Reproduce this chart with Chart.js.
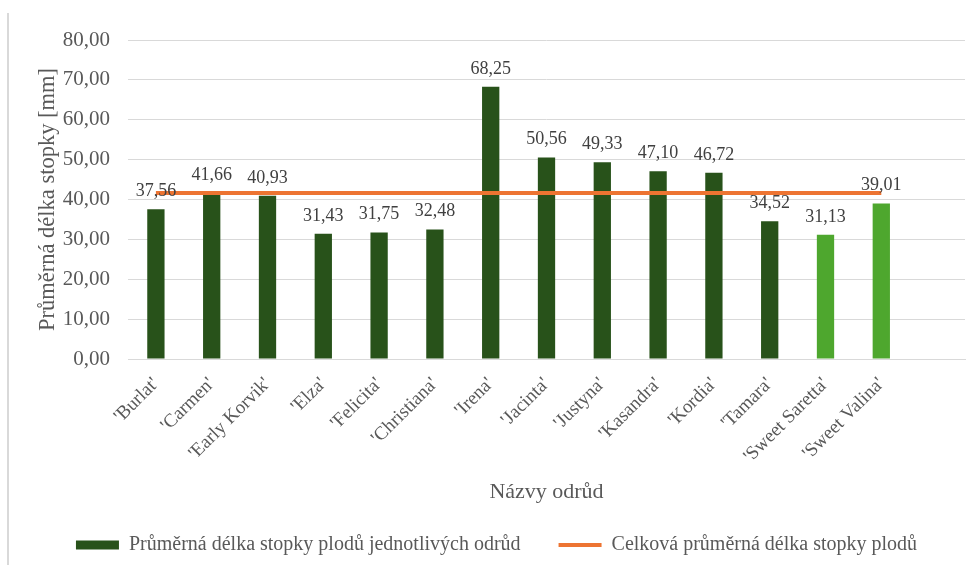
<!DOCTYPE html>
<html lang="cs">
<head>
<meta charset="utf-8">
<title>Průměrná délka stopky</title>
<script src="https://cdn.jsdelivr.net/npm/chart.js@4"></script>
<style>
  html, body { margin: 0; padding: 0; background: #fff; }
  #wrap { position: relative; width: 975px; height: 565px; }
  #frame { position: absolute; left: 7px; top: 13px; width: 2px; height: 552px; background: #d9d9d9; }
</style>
</head>
<body>
<div id="wrap">
  <div id="frame"></div>
  <canvas id="chart" width="975" height="565"></canvas>
</div>
<script>
// data
const varieties = ["'Burlat'", "'Carmen'", "'Early Korvik'", "'Elza'", "'Felicita'", "'Christiana'", "'Irena'",
  "'Jacinta'", "'Justyna'", "'Kasandra'", "'Kordia'", "'Tamara'", "'Sweet Saretta'", "'Sweet Valina'", ''];
const stalkLength = [37.56, 41.66, 40.93, 31.43, 31.75, 32.48, 68.25, 50.56, 49.33, 47.10, 46.72, 34.52, 31.13, 39.01, null];
const overallMean = [41.60, 41.60, 41.60, 41.60, 41.60, 41.60, 41.60, 41.60, 41.60, 41.60, 41.60, 41.60, 41.60, 41.60, null];
const barColors = ['#28521a', '#28521a', '#28521a', '#28521a', '#28521a', '#28521a', '#28521a',
  '#28521a', '#28521a', '#28521a', '#28521a', '#28521a', '#4ea72e', '#4ea72e', '#28521a'];

const serif = "'Liberation Serif', 'Times New Roman', serif";
const orange = '#ed7432';

const fmt = v => v.toFixed(2).replace('.', ',');

// values above the bars
const barLabels = {
  id: 'barLabels',
  afterDatasetsDraw(chart) {
    const meta = chart.getDatasetMeta(0);
    const c = chart.ctx;
    c.save();
    c.font = '18px ' + serif;
    c.fillStyle = '#404040';
    c.textAlign = 'center';
    c.textBaseline = 'alphabetic';
    meta.data.forEach((bar, i) => {
      const v = stalkLength[i];
      if (v == null) return;
      c.fillText(fmt(v), bar.x, bar.y - 13);
    });
    c.restore();
  }
};

new Chart(document.getElementById('chart'), {
  data: {
    labels: varieties,
    datasets: [
      {
        type: 'bar',
        label: 'Průměrná délka stopky plodů jednotlivých odrůd',
        data: stalkLength,
        backgroundColor: barColors,
        borderWidth: 0,
        barPercentage: 0.31,
        categoryPercentage: 1,
        order: 1
      },
      {
        type: 'line',
        label: 'Celková průměrná délka stopky plodů',
        data: overallMean,
        borderColor: orange,
        backgroundColor: orange,
        borderWidth: 4,
        pointRadius: 0,
        tension: 0,
        order: 0
      }
    ]
  },
  options: {
    responsive: false,
    animation: false,
    layout: { padding: { top: 40, left: 28, right: 10, bottom: 0 } },
    plugins: {
      tooltip: { enabled: false },
      legend: {
        position: 'bottom',
        labels: {
          font: { family: serif, size: 20 },
          color: '#595959',
          usePointStyle: true,
          pointStyleWidth: 43,
          boxHeight: 9,
          padding: 38,
          generateLabels(chart) {
            const items = Chart.defaults.plugins.legend.labels.generateLabels(chart);
            items.sort((a, b) => a.datasetIndex - b.datasetIndex);
            items.forEach(it => {
              if (it.datasetIndex === 0) {
                it.pointStyle = 'rect';
                it.fillStyle = '#28521a';
                it.strokeStyle = '#28521a';
                it.lineWidth = 0;
              } else {
                it.pointStyle = 'line';
                it.strokeStyle = orange;
                it.lineWidth = 4;
              }
            });
            return items;
          }
        }
      }
    },
    scales: {
      x: {
        grid: { display: false, drawTicks: false },
        border: { display: true, color: '#d9d9d9' },
        ticks: {
          autoSkip: false,
          maxRotation: 45,
          minRotation: 45,
          padding: 14,
          font: { family: serif, size: 19 },
          color: '#595959'
        },
        title: {
          display: true,
          text: 'Názvy odrůd',
          font: { family: serif, size: 22 },
          color: '#595959',
          padding: { top: 4, bottom: -8 }
        },
        afterFit(scale) { scale.height = 138; }
      },
      y: {
        min: 0,
        max: 80,
        grid: { color: '#d9d9d9', lineWidth: 1, drawTicks: false },
        border: { display: false },
        ticks: {
          stepSize: 10,
          padding: 18,
          font: { family: serif, size: 21 },
          color: '#595959',
          callback: v => fmt(v)
        },
        title: {
          display: true,
          text: 'Průměrná délka stopky [mm]',
          font: { family: serif, size: 22.5 },
          color: '#595959',
          padding: { top: 7, bottom: 0 }
        },
        afterFit(scale) { scale.width = 100; }
      }
    }
  },
  plugins: [barLabels]
});
</script>
</body>
</html>
